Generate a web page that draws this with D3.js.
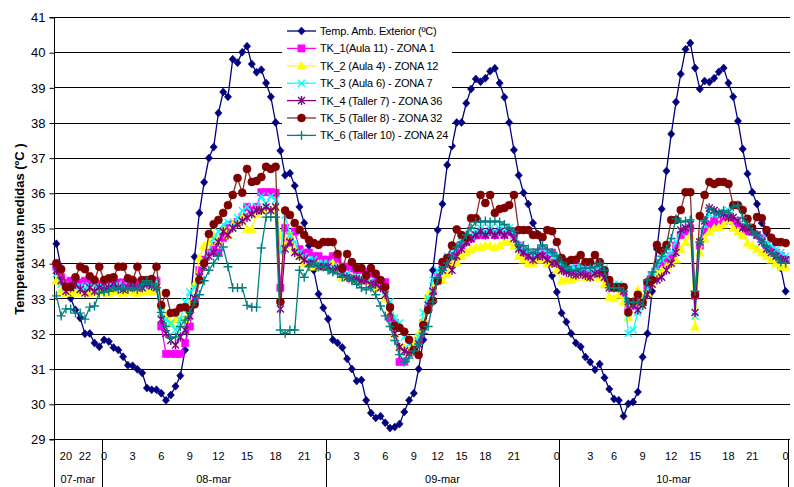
<!DOCTYPE html>
<html><head><meta charset="utf-8">
<script src="https://cdn.jsdelivr.net/npm/d3@7"></script>
<style>body{margin:0;background:#fff}svg{display:block;font-family:Arial,"Liberation Sans",sans-serif}</style>
</head><body><svg id="c" width="794" height="487"></svg>
<script>
// ---- data (one value per half-hour sample) ----
const tempExt = [34.55,33.86,33.4,33.0,32.67,32.44,31.99,32.0,31.73,31.62,
31.82,31.77,31.6,31.53,31.34,31.1,31.08,30.98,30.88,30.45,
30.4,30.4,30.3,30.1,30.25,30.5,30.8,31.53,32.8,34.18,
35.43,36.3,36.99,37.3,38.27,38.87,38.73,39.8,39.7,40.0,
40.17,39.66,39.43,39.5,39.12,38.73,38.0,37.2,36.5,36.56,
36.2,35.6,35.14,34.5,33.8,33.12,32.73,32.41,31.82,31.73,
31.6,31.28,30.99,30.65,30.68,30.1,29.74,29.6,29.65,29.46,
29.31,29.34,29.43,29.77,30.1,30.3,30.99,31.82,32.8,33.8,
34.94,35.68,36.79,37.33,38.0,38.0,38.55,38.95,39.24,39.16,
39.26,39.46,39.54,39.12,38.72,38.0,37.22,36.5,36.0,35.68,
35.14,34.83,34.4,34.0,33.64,33.18,32.58,32.33,32.0,31.73,
31.62,31.33,31.19,30.97,31.13,30.74,30.42,30.14,30.1,29.65,
30.0,30.05,30.34,31.33,32.0,33.2,34.4,35.54,36.62,37.67,
38.58,39.38,40.08,40.26,39.55,38.95,39.18,39.15,39.26,39.44,
39.55,39.12,38.73,38.04,37.25,36.54,36.02,35.68,35.14,34.86,
34.72,34.2,33.86,33.2];
const tk1 = [33.9,33.6,33.45,33.5,33.5,33.45,33.5,33.5,33.45,33.4,
33.4,33.35,33.45,33.45,33.45,33.4,33.4,33.45,33.5,33.5,
33.5,33.5,32.2,31.42,31.42,31.42,31.42,31.73,32.2,32.95,
33.8,34.1,34.3,34.5,34.3,34.72,35.0,35.1,35.17,35.3,
35.6,35.5,35.6,36.02,36.02,36.02,36.0,33.3,35.0,34.6,
34.9,34.4,34.3,34.3,34.2,34.2,34.1,34.1,34.2,34.1,
33.9,33.9,33.85,33.8,33.8,33.75,33.7,33.5,33.46,33.46,
32.44,32.3,31.19,31.2,31.5,31.6,31.8,32.3,32.7,33.2,
33.6,33.9,34.0,34.2,34.3,34.5,34.6,34.7,34.8,34.8,
34.8,34.9,34.8,34.9,34.8,34.9,34.8,34.5,34.3,34.2,
34.2,34.3,34.4,34.2,34.3,34.1,33.9,33.8,33.8,33.85,
33.9,33.8,33.75,33.8,33.85,33.7,33.4,33.3,33.3,33.1,
32.75,32.8,32.9,33.0,33.3,33.6,33.9,34.0,34.1,34.2,
34.5,34.8,34.9,35.0,33.07,34.5,34.9,35.1,35.2,35.1,
35.2,35.3,35.2,35.1,35.03,34.9,34.9,34.8,34.7,34.5,
34.4,34.3,34.2,34.1];
const tk2 = [33.5,33.2,33.15,33.2,33.15,33.2,33.2,33.15,33.2,33.2,
33.2,33.15,33.2,33.2,33.15,33.2,33.2,33.15,33.2,33.2,
33.2,33.25,32.8,32.5,32.3,32.4,32.4,32.4,32.8,33.4,
34.15,34.5,34.6,34.8,34.6,35.0,34.8,35.1,35.2,35.3,
34.97,34.97,35.4,35.5,35.6,35.5,35.6,34.8,34.5,34.8,
34.4,34.2,34.0,34.0,33.9,33.95,33.9,33.9,34.0,33.9,
33.6,33.6,33.6,33.5,33.5,33.6,33.4,33.3,33.3,33.0,
32.6,32.0,31.6,31.6,31.5,31.7,32.0,32.4,33.1,33.3,
33.5,33.52,33.7,34.0,34.03,34.2,34.3,34.4,34.46,34.46,
34.5,34.5,34.45,34.5,34.6,34.6,34.5,34.2,34.1,34.0,
34.0,34.1,34.1,34.0,34.0,33.8,33.5,33.52,33.52,33.6,
33.7,33.6,33.6,33.7,33.6,33.4,33.04,33.0,33.1,32.9,
32.47,32.9,33.24,33.0,33.15,33.4,33.7,33.8,33.9,34.0,
34.1,34.4,34.6,34.8,32.19,34.3,34.7,34.9,35.0,35.03,
35.1,35.23,35.0,34.9,34.8,34.57,34.5,34.4,34.3,34.2,
34.1,34.0,33.9,33.9];
const tk3 = [33.7,33.4,33.3,33.35,33.3,33.35,33.3,33.35,33.4,33.35,
33.3,33.35,33.3,33.4,33.35,33.3,33.35,33.3,33.4,33.35,
33.4,33.5,32.6,32.4,32.3,32.1,32.4,32.9,33.18,33.3,
33.6,34.0,34.3,34.7,34.9,35.1,35.17,35.0,35.3,35.5,
35.6,35.4,35.6,35.9,35.7,35.9,35.8,34.3,35.37,34.8,
34.6,34.3,34.2,34.1,34.1,34.0,34.0,34.0,33.9,33.9,
33.8,33.7,33.6,33.6,33.55,33.6,33.5,33.4,33.5,33.2,
32.9,32.44,32.3,31.9,31.7,31.6,31.9,32.6,33.0,33.52,
33.8,34.0,34.2,34.4,34.5,34.6,34.7,34.8,34.9,35.0,
34.9,35.0,34.9,35.0,34.9,35.0,34.8,34.5,34.4,34.3,
34.2,34.3,34.4,34.3,34.2,34.2,34.0,33.9,33.9,33.85,
33.9,33.85,33.8,33.85,33.9,33.86,33.5,33.4,33.4,33.3,
32.0,32.1,32.6,33.0,33.3,33.6,33.9,34.1,34.2,34.3,
34.6,34.9,35.0,35.1,32.5,34.6,35.1,35.4,35.5,35.4,
35.4,35.5,35.3,35.2,35.1,35.0,34.9,34.8,34.7,34.6,
34.5,34.4,34.3,34.2];
const tk4 = [33.8,33.5,33.2,33.3,33.4,33.25,33.15,33.3,33.2,33.3,
33.25,33.3,33.4,33.3,33.25,33.3,33.35,33.3,33.3,33.4,
33.35,33.3,32.4,32.0,31.8,31.67,31.9,32.1,32.5,33.0,
33.6,33.9,34.2,34.3,34.6,34.9,34.8,35.0,35.1,35.2,
35.3,35.4,35.5,35.5,35.6,35.5,35.6,32.7,34.4,34.6,
34.3,34.2,34.1,34.0,34.0,33.9,33.9,33.9,33.8,33.85,
33.7,33.6,33.55,33.55,33.5,33.5,33.4,33.4,33.3,33.1,
32.6,32.0,31.61,31.5,31.44,31.5,31.7,32.2,32.8,33.2,
33.5,33.8,34.0,33.8,34.2,34.4,34.6,34.7,34.8,34.9,
34.8,34.9,34.8,34.9,34.8,34.9,34.7,34.4,34.3,34.2,
34.1,34.2,34.2,34.1,34.0,34.0,33.8,33.75,33.7,33.66,
33.7,33.65,33.6,33.7,33.7,33.6,33.3,33.3,33.3,33.2,
32.9,32.8,32.67,32.8,33.1,33.4,33.52,33.6,33.8,34.0,
34.3,34.94,35.0,35.1,32.6,34.6,35.2,35.57,35.5,35.43,
35.4,35.3,35.3,35.2,35.0,35.0,34.9,34.8,34.6,34.4,
34.3,34.2,34.1,34.09];
const tk5 = [34.0,33.83,33.33,33.33,33.6,33.9,33.83,33.63,33.52,33.9,
33.52,33.57,33.6,33.9,33.9,33.57,33.52,33.9,33.52,33.52,
33.55,33.9,32.8,33.15,32.58,32.6,32.73,32.75,32.67,32.83,
33.52,34.0,34.83,35.11,35.23,35.43,35.65,35.94,36.42,36.0,
36.68,36.31,36.34,36.45,36.74,36.68,36.74,32.9,35.5,35.37,
35.14,34.95,34.8,34.66,34.57,34.52,34.6,34.6,34.6,34.26,
33.86,34.26,34.03,33.86,33.86,33.66,33.86,33.7,33.52,33.32,
32.75,32.21,32.16,32.05,31.82,31.53,31.39,32.24,32.67,32.93,
33.5,34.03,34.15,34.5,34.96,34.8,34.74,35.28,35.28,35.94,
35.71,35.94,35.43,35.54,35.57,35.65,35.94,34.94,34.94,34.94,
34.8,34.8,34.74,34.94,34.91,34.6,34.15,34.03,34.09,34.1,
34.23,34.03,34.03,34.23,34.03,33.8,33.52,33.32,33.32,33.32,
32.6,32.9,33.1,32.87,33.46,33.52,34.52,34.35,34.52,35.23,
35.23,35.51,36.02,36.02,33.1,35.34,35.94,36.31,36.25,36.31,
36.31,36.25,35.65,35.65,35.51,35.26,35.0,35.31,35.28,34.94,
34.72,34.6,34.6,34.57];
const tk6 = [33.07,32.5,32.7,32.7,32.58,32.58,32.41,32.75,32.78,33.15,
33.18,33.2,33.3,33.25,33.3,33.25,33.3,33.25,33.4,33.5,
33.4,33.3,32.6,32.2,31.87,31.9,32.2,32.38,32.6,32.9,
33.1,33.5,33.8,34.0,34.2,34.46,33.9,33.3,33.3,33.3,
32.8,32.75,32.75,34.43,35.31,35.31,35.31,32.1,32.0,32.1,
32.1,33.8,33.6,33.9,34.0,33.9,33.9,33.8,33.75,33.7,
33.6,33.6,33.5,33.4,33.3,33.24,33.3,33.1,32.78,32.5,
32.2,31.8,31.4,31.19,31.3,31.5,31.7,32.0,32.2,32.9,
33.58,33.8,34.0,34.2,34.46,34.6,34.8,35.0,35.17,35.17,
35.2,35.17,35.2,35.17,35.1,35.0,34.9,34.52,34.5,34.4,
34.3,34.4,34.52,34.4,34.3,34.2,34.03,33.9,33.8,33.8,
33.85,33.86,33.86,33.9,34.0,33.8,33.3,33.3,33.3,33.2,
32.9,32.87,32.9,32.8,33.52,33.75,34.0,34.2,34.4,34.7,
35.26,35.17,35.2,35.23,33.2,34.6,35.2,35.57,35.43,35.4,
35.5,35.43,35.6,35.65,35.3,35.1,34.9,34.8,34.6,34.46,
34.3,34.2,34.03,34.0];
const seriesNames = ["Temp. Amb. Exterior (ºC)","TK_1(Aula 11) - ZONA 1","TK_2 (Aula 4) - ZONA 12",
  "TK_3 (Aula 6) - ZONA 7","TK_4 (Taller 7) - ZONA 36","TK_5 (Taller 8) - ZONA 32","TK_6 (Taller 10) - ZONA 24"];
const hourTickIndex = [2,6, 10,16,22,28,34,40,46,52, 57,63,69,75,80,85,90,96,105, 112,117,123,129,134,141,146,153];
const hourTickText  = ["20","22","0","3","6","9","12","15","18","21","0","3","6","9","12","15","18","21","0","3","6","9","12","15","18","21","0"];
const dayLabels = ["07-mar","08-mar","09-mar","10-mar"];
const dayCounts = [10,47,49,48];
const yTicks = d3.range(29,42);

// ---- styles ----
const colors = ["#000080","#FF00FF","#FFFF00","#00FFFF","#800080","#800000","#008080"];
const lineColors = ["#000080","#FF00FF","#FFFF00","#00FFFF","#800080","#8B2C2C","#008080"];
const markers = [
  {d:"M0,-4L3.6,0L0,4L-3.6,0Z", fill:true},
  {d:"M-3.6,-3.6H3.6V3.6H-3.6Z", fill:true},
  {d:"M0,-4.5L4.5,3.5H-4.5Z", fill:true},
  {d:"M-3.5,-3.5L3.5,3.5M-3.5,3.5L3.5,-3.5", fill:false},
  {d:"M-3.5,-3.5L3.5,3.5M-3.5,3.5L3.5,-3.5M0,-4.5V4.5", fill:false},
  {d:"M-4,0A4,4 0 1,0 4,0A4,4 0 1,0 -4,0Z", fill:true},
  {d:"M-4.5,0H4.5M0,-4.5V4.5", fill:false}
];
const allSeries = [tempExt,tk1,tk2,tk3,tk4,tk5,tk6];
const N = tempExt.length;

const svg = d3.select("#c");
const L = 54, R = 788, T = 17, B = 439;
const x = d3.scaleBand().domain(d3.range(N)).range([L,R]).padding(0);
const xc = i => x(i) + x.bandwidth()/2;
const y = d3.scaleLinear().domain([29,41]).range([B,T]);

// gridlines
svg.append("g").selectAll("line").data(yTicks.filter(v=>v>29)).join("line")
  .attr("x1",L).attr("x2",R+2).attr("y1",d=>Math.round(y(d))+0.5).attr("y2",d=>Math.round(y(d))+0.5)
  .attr("stroke","#000").attr("stroke-width",1);

// y axis
const ya = svg.append("g").attr("transform",`translate(${L+0.5},0.5)`)
  .call(d3.axisLeft(y).tickValues(yTicks).tickSize(5).tickPadding(4).tickFormat(d3.format("d")));
ya.select(".domain").attr("stroke","#000").attr("d",`M-5,${y(41)}H0V${y(29)}H-5`);
ya.selectAll(".tick line").attr("stroke","#000");
ya.selectAll("text").attr("font-size",13).attr("font-family","Arial, 'Liberation Sans', sans-serif").attr("fill","#000");

// x axis line
svg.append("line").attr("x1",L).attr("x2",R+2).attr("y1",B+0.5).attr("y2",B+0.5).attr("stroke","#000");

// day separators
let acc = 0; const bounds = [0];
dayCounts.forEach(c=>{acc+=c; bounds.push(acc);});
svg.append("g").selectAll("line").data(bounds).join("line")
  .attr("x1",d=>Math.round(d<N?x(d):R)+0.5).attr("x2",d=>Math.round(d<N?x(d):R)+0.5)
  .attr("y1",B).attr("y2",487).attr("stroke","#000");

// hour labels
svg.append("g").selectAll("text").data(hourTickIndex).join("text")
  .attr("x",(d)=>xc(d)).attr("y",460).attr("text-anchor","middle")
  .attr("font-size",11).text((d,k)=>hourTickText[k]);

// day labels
svg.append("g").selectAll("text").data(dayLabels).join("text")
  .attr("x",(d,k)=>{const a=bounds[k], b=bounds[k+1]; return ((a<N?x(a):R)+(b<N?x(b):R))/2;})
  .attr("y",483).attr("text-anchor","middle").attr("font-size",11).text(d=>d);

// y title
svg.append("text").attr("transform","translate(24,229) rotate(-90)").attr("text-anchor","middle")
  .attr("font-size",13).attr("font-weight","bold").text("Temperaturas medidas (ºC )");

// series
const line = d3.line().x((d,i)=>xc(i)).y(d=>y(d));
allSeries.forEach((s,k)=>{
  const g = svg.append("g");
  g.append("path").datum(s).attr("d",line).attr("fill","none")
    .attr("stroke",lineColors[k]).attr("stroke-width",1.3);
  g.selectAll("path.m").data(s).join("path").attr("class","m")
    .attr("transform",(d,i)=>`translate(${xc(i)},${y(d)})`).attr("d",markers[k].d)
    .attr("fill",markers[k].fill?colors[k]:"none")
    .attr("stroke",colors[k]).attr("stroke-width",markers[k].fill?0.6:1.4);
});

// legend
const lg = svg.append("g");
lg.append("rect").attr("x",282).attr("y",20).attr("width",170).attr("height",126).attr("fill","#fff");
seriesNames.forEach((n,k)=>{
  const yy = 31 + k*17.4;
  lg.append("line").attr("x1",287).attr("x2",316).attr("y1",yy).attr("y2",yy)
    .attr("stroke",lineColors[k]).attr("stroke-width",1.3);
  lg.append("path").attr("transform",`translate(301.5,${yy})`).attr("d",markers[k].d)
    .attr("fill",markers[k].fill?colors[k]:"none").attr("stroke",colors[k])
    .attr("stroke-width",markers[k].fill?0.6:1.4);
  lg.append("text").attr("x",320).attr("y",yy+4).attr("font-size",11).attr("letter-spacing",-0.2).text(n);
});
</script></body></html>
